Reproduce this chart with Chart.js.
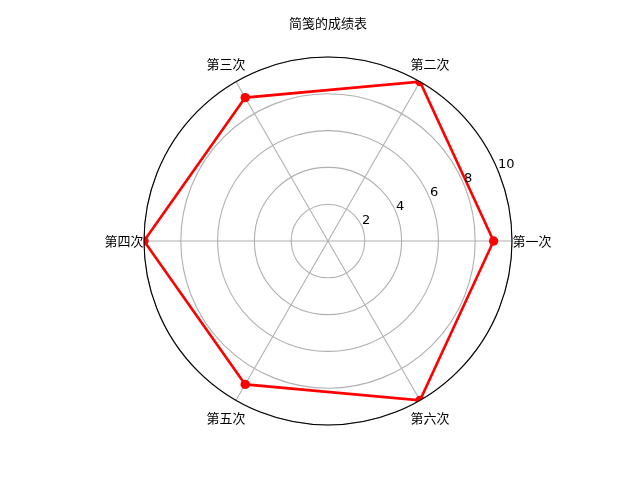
<!DOCTYPE html>
<html>
<head>
<meta charset="utf-8">
<script src="https://cdn.jsdelivr.net/npm/chart.js@4"></script>
<style>
  html, body { margin: 0; padding: 0; background: #fff; }
  #wrap { width: 640px; height: 480px; }
</style>
</head>
<body>
<div id="wrap"><canvas id="radarChart" width="640" height="480"></canvas></div>
<script>
const labels = ['第一次', '第二次', '第三次', '第四次', '第五次', '第六次'];
const scores = [9, 10, 9, 10, 9, 10];
const rTicks = [2, 4, 6, 8, 10];
const chartTitle = '简笺的成绩表';

// matplotlib goes counter-clockwise from the east, chart.js clockwise,
// so keep the first one and reverse the rest
const order = [0].concat(labels.map((l, i) => i).slice(1).reverse());
const cjLabels = order.map(i => labels[i]);
const cjScores = order.map(i => scores[i]);

const cjkFont = '"Noto Sans CJK SC", "DejaVu Sans", sans-serif';

const polarExtras = {
  id: 'polarExtras',
  beforeDatasetsDraw(chart) {
    const s = chart.scales.r;
    const ctx = chart.ctx;
    ctx.save();
    ctx.beginPath();
    ctx.arc(s.xCenter, s.yCenter, s.drawingArea, 0, Math.PI * 2);
    ctx.clip();
  },
  afterDatasetsDraw(chart) {
    const s = chart.scales.r;
    const ctx = chart.ctx;
    ctx.restore();

    // outer spine
    ctx.save();
    ctx.beginPath();
    ctx.arc(s.xCenter, s.yCenter, s.drawingArea, 0, Math.PI * 2);
    ctx.strokeStyle = '#000';
    ctx.lineWidth = 1.1;
    ctx.stroke();

    // radial tick labels at 22.5 degrees, left/bottom anchored like matplotlib
    ctx.fillStyle = '#000';
    ctx.font = '13px "DejaVu Sans", sans-serif';
    ctx.textAlign = 'left';
    ctx.textBaseline = 'alphabetic';
    const a = 22.5 * Math.PI / 180;
    rTicks.forEach(v => {
      const d = s.getDistanceFromCenterForValue(v);
      ctx.fillText(String(v), s.xCenter + d * Math.cos(a), s.yCenter - d * Math.sin(a) - 3);
    });

    // angle labels
    ctx.font = '13px ' + cjkFont;
    ctx.textAlign = 'center';
    ctx.textBaseline = 'middle';
    labels.forEach((l, i) => {
      const ang = i * 60 * Math.PI / 180;
      const d = s.drawingArea + 20;
      ctx.fillText(l, s.xCenter + d * Math.cos(ang), s.yCenter - d * Math.sin(ang));
    });
    ctx.restore();
  }
};

new Chart(document.getElementById('radarChart'), {
  type: 'radar',
  data: {
    labels: cjLabels,
    datasets: [{
      data: cjScores,
      borderColor: 'red',
      backgroundColor: 'red',
      borderWidth: 2.6,
      fill: false,
      pointRadius: 4.7,
      pointBackgroundColor: 'red',
      pointBorderColor: 'red',
      pointBorderWidth: 0,
      tension: 0
    }]
  },
  options: {
    responsive: false,
    animation: false,
    devicePixelRatio: 1,
    layout: { padding: { left: 144, right: 128, top: 0, bottom: 55 } },
    plugins: {
      legend: { display: false },
      tooltip: { enabled: false },
      title: {
        display: true,
        text: chartTitle,
        color: '#000',
        font: { family: cjkFont, size: 13, weight: 'normal' },
        padding: { top: 15, bottom: 26.4 }
      }
    },
    scales: {
      r: {
        min: 0,
        max: 10,
        startAngle: 90,
        ticks: { display: false, stepSize: 2 },
        pointLabels: { display: false },
        grid: { circular: true, color: '#b0b0b0', lineWidth: 1.1 },
        angleLines: { color: '#b0b0b0', lineWidth: 1.1 }
      }
    }
  },
  plugins: [polarExtras]
});
</script>
</body>
</html>
